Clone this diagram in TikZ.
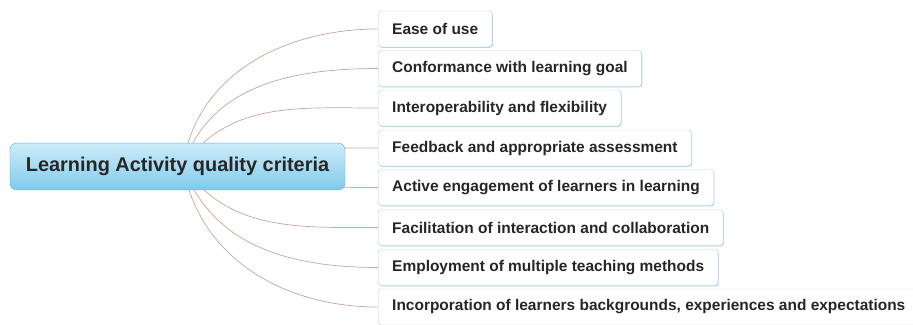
\documentclass[tikz,border=0pt]{standalone}
\usepackage{fontspec}
\setmainfont{Liberation Sans}
\usetikzlibrary{shapes,positioning,backgrounds,shadows}
\usepackage{xcolor}

\definecolor{linkbrown}{RGB}{200,165,155}
\definecolor{boxline}{RGB}{178,214,232}
\definecolor{boxshade}{RGB}{150,195,220}
\definecolor{rootline}{RGB}{95,180,220}
\definecolor{roottop}{RGB}{205,236,250}
\definecolor{rootbot}{RGB}{128,202,235}

\tikzset{
  root/.style={rectangle, draw=rootline, rounded corners=0.2cm, top color=roottop, bottom color=rootbot,
    minimum width=10.05cm, minimum height=1.4cm, font=\fontsize{17}{19}\selectfont\bfseries, text=black!85},
  crit/.style={rectangle, draw=boxline, fill=white, rounded corners=0.1cm, anchor=west,
    minimum height=1.08cm, inner xsep=0.42cm, font=\fontsize{13.2}{15}\selectfont\bfseries, text=black!85,
    drop shadow={shadow xshift=0.5pt, shadow yshift=-0.7pt, fill=boxshade, opacity=0.8}},
  link/.style={draw=linkbrown, line width=0.6pt}
}

\begin{document}
\begin{tikzpicture}[x=0.03cm, y=-0.03cm]
    \useasboundingbox (0,0) rectangle (913,324);

    % Centre
    \node[root] (centre) at (177.5,166.5) {Learning Activity quality criteria};
    \coordinate (hub) at (183,166);

    % Criteria
    \node[crit] (ease) at (378,29) {Ease of use};
    \node[crit] (conform) at (378,68.5) {Conformance with learning goal};
    \node[crit] (interop) at (378,108) {Interoperability and flexibility};
    \node[crit] (feedback) at (378,148) {Feedback and appropriate assessment};
    \node[crit] (active) at (378,187.5) {Active engagement of learners in learning};
    \node[crit] (facil) at (378,227.5) {Facilitation of interaction and collaboration};
    \node[crit] (employ) at (378,267.5) {Employment of multiple teaching methods};
    \node[crit] (incorp) at (378,307) {Incorporation of learners backgrounds, experiences and expectations};

    % Links
    \begin{pgfonlayer}{background}
    \draw[link] (hub) to[out=82, in=180] (ease.west);
    \draw[link] (hub) to[out=72, in=180] (conform.west);
    \draw[link] (hub) to[out=55, in=180] (interop.west);
    \draw[link] (hub) to[out=15, in=180] (feedback.west);
    \draw[link] (hub) to[out=-15, in=180] (active.west);
    \draw[link] (hub) to[out=-55, in=180] (facil.west);
    \draw[link] (hub) to[out=-70, in=180] (employ.west);
    \draw[link] (hub) to[out=-80, in=180] (incorp.west);
    \end{pgfonlayer}
\end{tikzpicture}
\end{document}
